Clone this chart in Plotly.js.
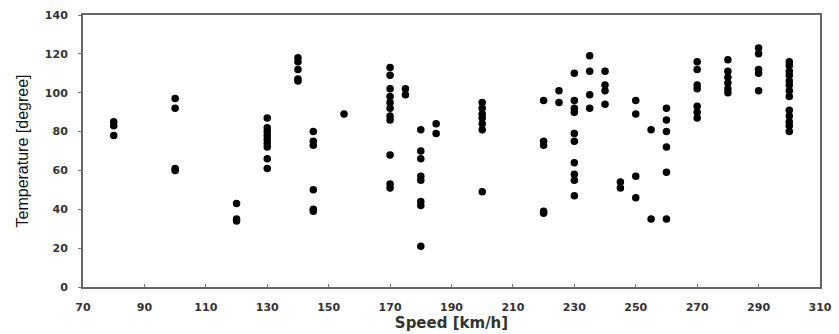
<!DOCTYPE html>
<html>
<head>
<meta charset="utf-8">
<script src="https://cdn.plot.ly/plotly-3.0.1.min.js"></script>
<style>html,body{margin:0;padding:0;background:#fff;}#chart{width:839px;height:334px;}</style>
</head>
<body>
<div id="chart"></div>
<script>
// Speed [km/h] of each measured point
const speedKmh = [
  80, 80, 80,
  100, 100, 100, 100,
  120, 120, 120,
  130, 130, 130, 130, 130, 130, 130, 130, 130,
  140, 140, 140, 140, 140,
  145, 145, 145, 145, 145, 145,
  155,
  170, 170, 170, 170, 170, 170, 170, 170, 170, 170, 170,
  175, 175,
  180, 180, 180, 180, 180, 180, 180, 180,
  185, 185,
  200, 200, 200, 200, 200, 200, 200,
  220, 220, 220, 220, 220,
  225, 225,
  230, 230, 230, 230, 230, 230, 230, 230, 230, 230,
  235, 235, 235, 235,
  240, 240, 240, 240,
  245, 245,
  250, 250, 250, 250,
  255, 255,
  260, 260, 260, 260, 260, 260,
  270, 270, 270, 270, 270, 270, 270,
  280, 280, 280, 280, 280, 280,
  290, 290, 290, 290, 290,
  300, 300, 300, 300, 300, 300, 300, 300, 300, 300, 300, 300, 300
];
// Temperature [degree] of each measured point
const temperatureDeg = [
  85, 83, 78,
  97, 92, 61, 60,
  43, 35, 34,
  87, 82, 80, 78, 76, 74, 72, 66, 61,
  118, 116, 112, 107, 106,
  80, 75, 73, 50, 40, 39,
  89,
  113, 109, 102, 98, 95, 92, 88, 86, 68, 53, 51,
  102, 99,
  81, 70, 66, 57, 55, 44, 42, 21,
  84, 79,
  95, 92, 89, 87, 84, 81, 49,
  96, 75, 73, 39, 38,
  101, 95,
  110, 96, 92, 90, 79, 75, 64, 58, 55, 47,
  119, 111, 99, 92,
  111, 104, 101, 94,
  54, 51,
  96, 89, 57, 46,
  81, 35,
  92, 86, 80, 72, 59, 35,
  116, 112, 104, 102, 93, 90, 87,
  117, 111, 108, 105, 102, 100,
  123, 120, 112, 110, 101,
  116, 114, 111, 109, 106, 104, 101, 98, 91, 88, 85, 83, 80
];
const xTickVals = [70, 90, 110, 130, 150, 170, 190, 210, 230, 250, 270, 290, 310];
const yTickVals = [0, 20, 40, 60, 80, 100, 120, 140];

const trace = {
  type: 'scatter',
  mode: 'markers',
  x: speedKmh,
  y: temperatureDeg,
  marker: {color: '#000', size: 7.5, line: {width: 0}},
  hoverinfo: 'x+y'
};

const tickFont = {family: 'DejaVu Sans', size: 11, color: '#333', weight: 'bold'};
const axisColor = '#666';

const layout = {
  width: 839, height: 334,
  margin: {l: 83, r: 19, t: 15, b: 47, pad: 0},
  paper_bgcolor: '#fff', plot_bgcolor: '#fff',
  showlegend: false,
  xaxis: {
    range: [70, 310], tickvals: xTickVals, ticktext: xTickVals.map(String),
    showgrid: false, zeroline: false,
    showline: true, linecolor: axisColor, linewidth: 2, mirror: true,
    ticks: 'inside', ticklen: 3, tickcolor: '#777', tickwidth: 1,
    tickfont: tickFont,
    ticklabelstandoff: 9,
    title: {text: 'Speed [km/h]', font: {family: 'DejaVu Sans', size: 15, color: '#333', weight: 'bold'}, standoff: 3}
  },
  yaxis: {
    range: [0, 140], tickvals: yTickVals, ticktext: yTickVals.map(String),
    showgrid: false, zeroline: false,
    showline: true, linecolor: axisColor, linewidth: 2, mirror: true,
    ticks: 'outside', ticklen: 3, tickcolor: '#777', tickwidth: 1,
    tickfont: tickFont,
    ticklabelstandoff: 8,
    title: {text: 'Temperature [degree]', font: {family: 'Liberation Sans Narrow, Liberation Sans, Arial', size: 16, color: '#111'}, standoff: 12}
  }
};

Plotly.newPlot('chart', [trace], layout, {displayModeBar: false, staticPlot: true});
</script>
</body>
</html>
